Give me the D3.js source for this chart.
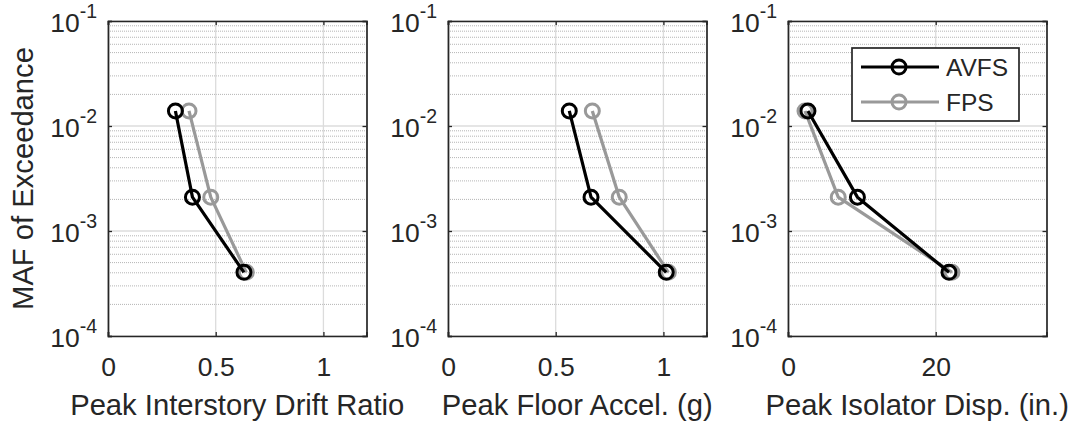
<!DOCTYPE html>
<html>
<head>
<meta charset="utf-8">
<script src="https://cdn.jsdelivr.net/npm/d3@7"></script>
<style>
  html, body { margin: 0; padding: 0; background: #fff; }
  svg { display: block; font-family: "Liberation Sans", Arial, Helvetica, sans-serif; }
</style>
</head>
<body>
<svg id="chart" width="1075" height="424"></svg>
<script>
// Mean annual frequency of exceedance for the three hazard levels
const maf = [0.0139, 0.0021, 0.000404];

// Response demands per hazard level (AVFS vs FPS)
const driftAVFS = [0.313, 0.392, 0.631];
const driftFPS  = [0.376, 0.477, 0.642];
const accelAVFS = [0.563, 0.664, 1.013];
const accelFPS  = [0.670, 0.795, 1.023];
const dispAVFS  = [2.7, 9.4, 21.8];
const dispFPS   = [2.3, 6.8, 22.2];

const seriesNames = ["AVFS", "FPS"];
const seriesColors = ["#000000", "#999999"];

const xLabels = ["Peak Interstory Drift Ratio", "Peak Floor Accel. (g)", "Peak Isolator Disp. (in.)"];
const xDomains = [[0, 1.2], [0, 1.2], [0, 35]];
const xTicks = [[0, 0.5, 1], [0, 0.5, 1], [0, 20]];
const yTickExps = [-4, -3, -2, -1];

const panelData = [
  [driftAVFS, driftFPS],
  [accelAVFS, accelFPS],
  [dispAVFS, dispFPS]
];

const svg = d3.select("#chart");
const axisColor = "#262626";
const plotLefts = [108, 448, 788];
const plotW = 258.5, plotTop = 21, plotBottom = 336;

const y = d3.scaleLog().domain([1e-4, 1e-1]).range([plotBottom, plotTop]);

// minor grid values 2..9 x 10^k
const minorVals = [];
[-4, -3, -2].forEach(e => { for (let m = 2; m <= 9; m++) minorVals.push(m * Math.pow(10, e)); });

panelData.forEach((series, p) => {
  const left = plotLefts[p];
  const x = d3.scaleLinear().domain(xDomains[p]).range([left, left + plotW]);
  const g = svg.append("g");

  // minor y grid (dotted)
  g.selectAll(".ymin").data(minorVals).enter().append("line")
    .attr("x1", left).attr("x2", left + plotW)
    .attr("y1", d => y(d)).attr("y2", d => y(d))
    .attr("stroke", "#b5b5b5").attr("stroke-width", 1)
    .attr("stroke-dasharray", "1,1");

  // major grid
  g.selectAll(".ymaj").data(yTickExps.map(e => Math.pow(10, e))).enter().append("line")
    .attr("x1", left).attr("x2", left + plotW)
    .attr("y1", d => y(d)).attr("y2", d => y(d))
    .attr("stroke", "#dcdcdc").attr("stroke-width", 1.3);
  g.selectAll(".xmaj").data(xTicks[p]).enter().append("line")
    .attr("x1", d => x(d)).attr("x2", d => x(d))
    .attr("y1", plotTop).attr("y2", plotBottom)
    .attr("stroke", "#dcdcdc").attr("stroke-width", 1.3);

  // axes: ticks inside on all four sides
  const xAxB = d3.axisBottom(x).tickValues(xTicks[p]).tickSize(-4).tickFormat(d3.format("~g"));
  const xAxT = d3.axisTop(x).tickValues(xTicks[p]).tickSize(-4).tickFormat("");
  const yAxL = d3.axisLeft(y).tickValues(yTickExps.map(e => Math.pow(10, e))).tickSize(-4).tickFormat("");
  const yAxR = d3.axisRight(y).tickValues(yTickExps.map(e => Math.pow(10, e))).tickSize(-4).tickFormat("");

  const gb = g.append("g").attr("transform", `translate(0,${plotBottom})`).call(xAxB);
  const gt = g.append("g").attr("transform", `translate(0,${plotTop})`).call(xAxT);
  const gl = g.append("g").attr("transform", `translate(${left},0)`).call(yAxL);
  const gr = g.append("g").attr("transform", `translate(${left + plotW},0)`).call(yAxR);
  [gb, gt, gl, gr].forEach(a => {
    a.select(".domain").attr("stroke", axisColor).attr("stroke-width", 1.7);
    a.selectAll(".tick line").attr("stroke", axisColor).attr("stroke-width", 1.3);
  });
  gb.selectAll(".tick text")
    .attr("font-family", "Liberation Sans, Arial, sans-serif")
    .attr("font-size", 26.5).attr("fill", axisColor)
    .attr("dy", null).attr("y", 40);

  // y tick labels as 10^k
  const ylab = g.selectAll(".ylab").data(yTickExps).enter().append("text")
    .attr("x", left - 11).attr("y", d => y(Math.pow(10, d)) + 11)
    .attr("text-anchor", "end")
    .attr("font-size", 26.5).attr("fill", axisColor);
  ylab.append("tspan").text("10");
  ylab.append("tspan").attr("font-size", 19.5).attr("dy", -14).text(d => String(d));

  // x label
  g.append("text")
    .attr("x", left + plotW / 2).attr("y", 415)
    .attr("text-anchor", "middle")
    .attr("font-size", 29.2).attr("fill", axisColor)
    .text(xLabels[p]);

  // data lines + circle markers; draw FPS first, then AVFS on top
  const order = [1, 0];
  order.forEach(si => {
    const vals = series[si];
    const pts = vals.map((v, i) => [x(v), y(maf[i])]);
    g.append("path")
      .attr("d", d3.line()(pts))
      .attr("fill", "none")
      .attr("stroke", seriesColors[si])
      .attr("stroke-width", 3.2)
      .attr("stroke-linejoin", "round");
    g.selectAll(null).data(pts).enter().append("circle")
      .attr("cx", d => d[0]).attr("cy", d => d[1]).attr("r", 7)
      .attr("fill", "none")
      .attr("stroke", seriesColors[si])
      .attr("stroke-width", 3);
  });
});

// y axis title
svg.append("text")
  .attr("transform", `translate(33,${(plotTop + plotBottom) / 2}) rotate(-90)`)
  .attr("text-anchor", "middle")
  .attr("font-size", 29.2).attr("fill", axisColor)
  .text("MAF of Exceedance");

// legend in the third panel
const lg = svg.append("g");
lg.append("rect")
  .attr("x", 852).attr("y", 48).attr("width", 167).attr("height", 73)
  .attr("fill", "#fff").attr("stroke", axisColor).attr("stroke-width", 1.7);
seriesNames.forEach((name, i) => {
  const ly = 67 + i * 35;
  lg.append("line").attr("x1", 861).attr("x2", 939).attr("y1", ly).attr("y2", ly)
    .attr("stroke", seriesColors[i]).attr("stroke-width", 3.2);
  lg.append("circle").attr("cx", 899).attr("cy", ly).attr("r", 7)
    .attr("fill", "none").attr("stroke", seriesColors[i]).attr("stroke-width", 3);
  lg.append("text").attr("x", 946).attr("y", ly + 9)
    .attr("font-size", 24.5).attr("fill", axisColor).text(name);
});
</script>
</body>
</html>
